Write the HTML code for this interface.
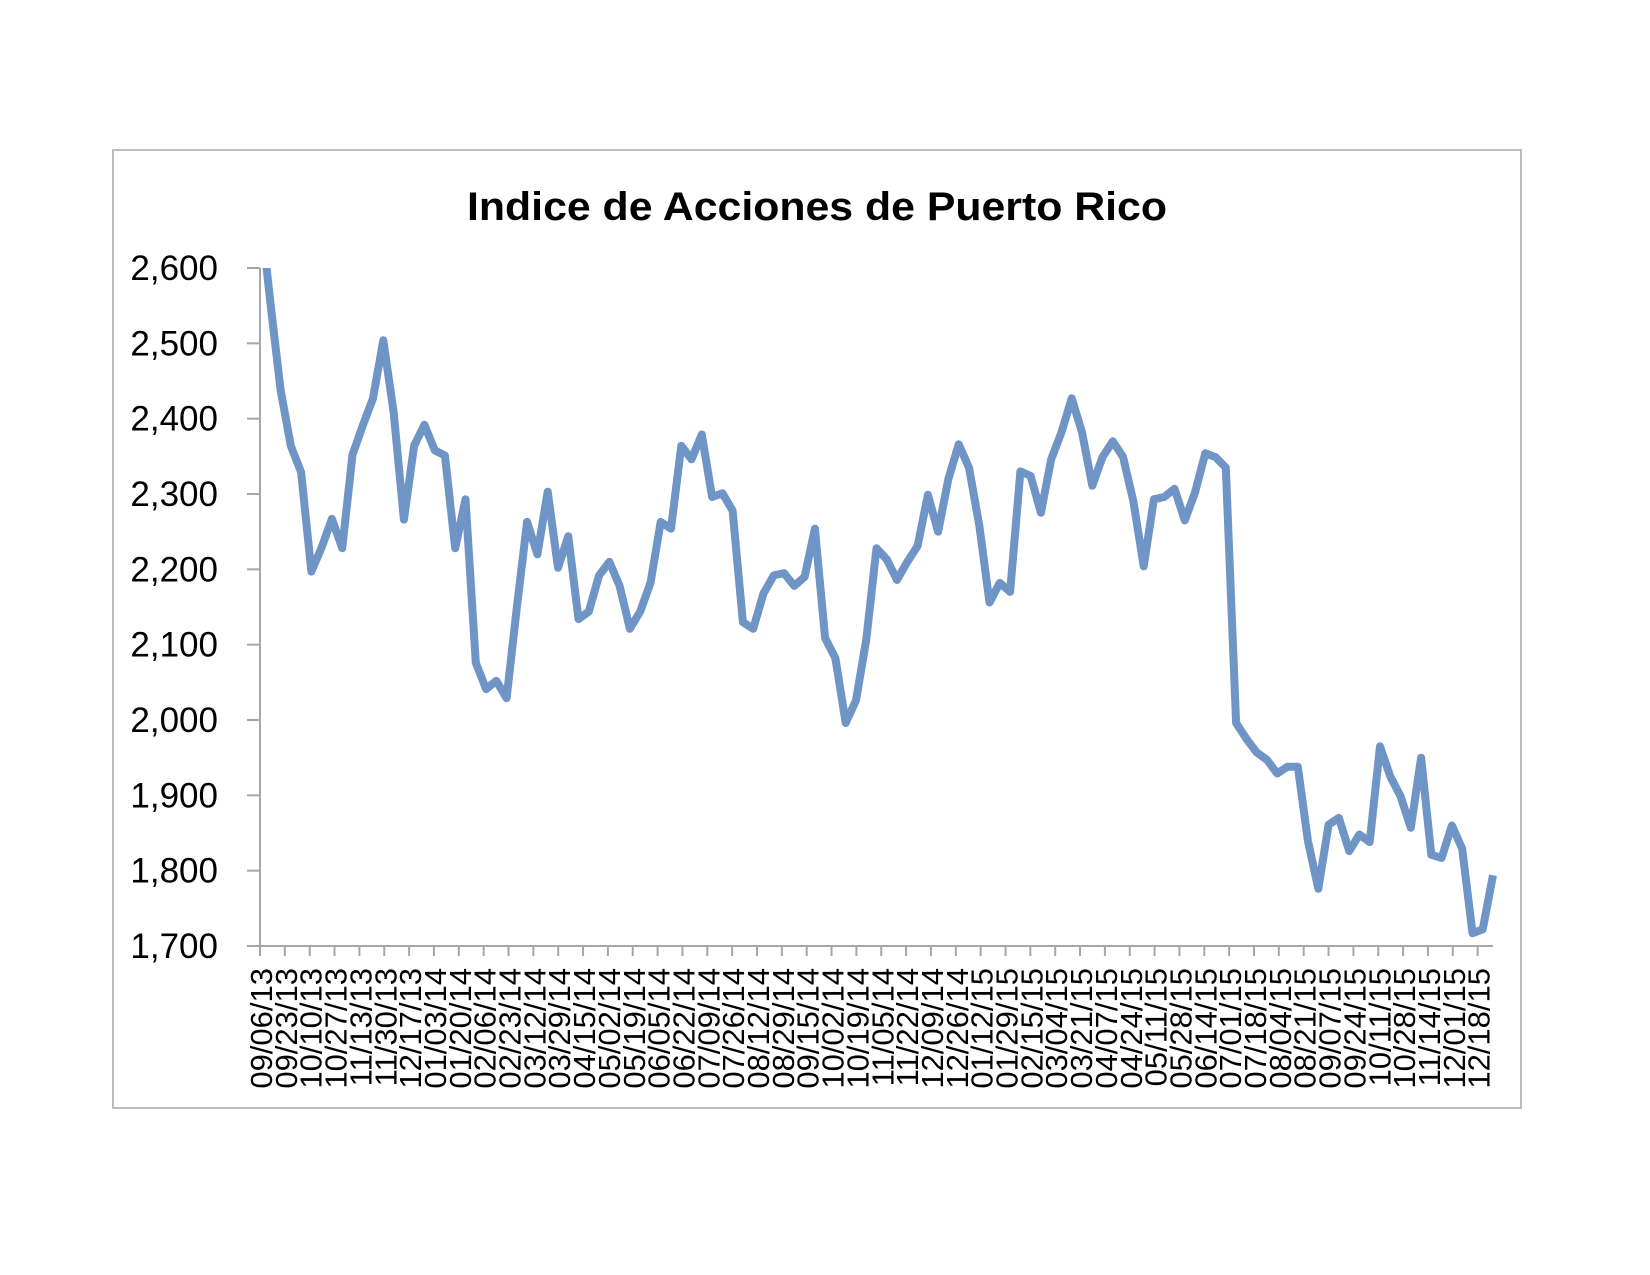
<!DOCTYPE html>
<html><head><meta charset="utf-8"><title>Indice de Acciones de Puerto Rico</title>
<style>html,body{margin:0;padding:0;background:#fff}svg{display:block}</style></head>
<body>
<svg id="chart" width="1650" height="1275" viewBox="0 0 1650 1275" xmlns="http://www.w3.org/2000/svg" font-family="'Liberation Sans', sans-serif">
<rect x="113" y="150" width="1408" height="958" fill="#fff" stroke="#bdbdbd" stroke-width="2"/>
<text x="817" y="220" text-anchor="middle" font-size="40" font-weight="bold" fill="#000" textLength="700" lengthAdjust="spacingAndGlyphs">Indice de Acciones de Puerto Rico</text>
<g id="axes"></g>
<g id="series"></g>
</svg>
<script>
const values = [2680,2555,2438,2364,2329,2197,2229,2267,2228,2352,2391,2427,2504,2409,2266,2364,2392,2358,2351,2228,2293,2076,2041,2052,2029,
2150,2263,2220,2303,2202,2244,2134,2144,2192,2210,2178,2121,2144,2182,2263,2254,2364,2346,2379,2296,2301,2278,2130,
2121,2168,2192,2195,2178,2190,2254,2109,2082,1996,2026,2106,2228,2213,2186,2210,2231,2299,2250,2320,2366,2335,2258,
2156,2182,2170,2330,2324,2275,2346,2382,2427,2382,2311,2349,2370,2349,2290,2204,2293,2296,2307,2265,2302,2354,2349,2335,
1996,1975,1957,1947,1929,1938,1938,1839,1776,1861,1870,1826,1848,1838,1965,1925,1899,1857,1950,1821,1817,1860,1829,1717,1722,1794];
const yTicks = [1700,1800,1900,2000,2100,2200,2300,2400,2500,2600];
const yTickLabels = ["1,700","1,800","1,900","2,000","2,100","2,200","2,300","2,400","2,500","2,600"];
const xTickLabels = ["09/06/13","09/23/13","10/10/13","10/27/13","11/13/13","11/30/13","12/17/13","01/03/14","01/20/14","02/06/14","02/23/14","03/12/14","03/29/14","04/15/14","05/02/14","05/19/14","06/05/14","06/22/14","07/09/14","07/26/14","08/12/14","08/29/14","09/15/14","10/02/14","10/19/14","11/05/14","11/22/14","12/09/14","12/26/14","01/12/15","01/29/15","02/15/15","03/04/15","03/21/15","04/07/15","04/24/15","05/11/15","05/28/15","06/14/15","07/01/15","07/18/15","08/04/15","08/21/15","09/07/15","09/24/15","10/11/15","10/28/15","11/14/15","12/01/15","12/18/15"];

const NS="http://www.w3.org/2000/svg";
const X0=260, X1=1493, Y0=946, Y1=268, VMIN=1700, VMAX=2600;
const TICK_STEP=24.85;
function xOf(i){return X0 + i*(X1-X0)/(values.length-1);}
function yOf(v){return Y0 - (v-VMIN)/(VMAX-VMIN)*(Y0-Y1);}
function mk(tag,parent){const e=document.createElementNS(NS,tag);parent.appendChild(e);return e;}

const axes=document.getElementById('axes');
const yAxis=mk('line',axes);


yAxis.setAttribute('x1',X0);yAxis.setAttribute('x2',X0);yAxis.setAttribute('y1',Y1);yAxis.setAttribute('y2',Y0);
yAxis.setAttribute('stroke','#a6a6a6');yAxis.setAttribute('stroke-width','2');
const xAxis=mk('line',axes);


xAxis.setAttribute('x1',X0);xAxis.setAttribute('x2',X1);xAxis.setAttribute('y1',Y0);xAxis.setAttribute('y2',Y0);
xAxis.setAttribute('stroke','#a6a6a6');xAxis.setAttribute('stroke-width','2');

yTicks.forEach((t,k)=>{
  const y=yOf(t);
  const tk=mk('line',axes);
  
  
  tk.setAttribute('x1',X0-13);tk.setAttribute('x2',X0);tk.setAttribute('y1',y);tk.setAttribute('y2',y);
  tk.setAttribute('stroke','#a6a6a6');tk.setAttribute('stroke-width','2');
  const lb=mk('text',axes);
  
  
  lb.setAttribute('x',218);lb.setAttribute('y',y+12);
  lb.setAttribute('text-anchor','end');lb.setAttribute('font-size','35');lb.setAttribute('fill','#000');
  lb.textContent=yTickLabels[k];
});

xTickLabels.forEach((s,k)=>{
  const x=X0+k*TICK_STEP;
  const tk=mk('line',axes);
  
  
  tk.setAttribute('x1',x);tk.setAttribute('x2',x);tk.setAttribute('y1',Y0);tk.setAttribute('y2',Y0+10);
  tk.setAttribute('stroke','#a6a6a6');tk.setAttribute('stroke-width','2');
  const lb=mk('text',axes);
  
  
  lb.setAttribute('transform','translate('+(x+12)+',968) rotate(-90)');
  lb.setAttribute('text-anchor','end');lb.setAttribute('font-size','31');lb.setAttribute('fill','#000');
  lb.textContent=s;
});

const series=document.getElementById('series');
const clip=mk('clipPath',series);clip.setAttribute('id','plotclip');
const cr=mk('rect',clip);cr.setAttribute('x',X0-10);cr.setAttribute('y',Y1);cr.setAttribute('width',X1-X0+20);cr.setAttribute('height',Y0-Y1+10);
const path=mk('polyline',series);


path.setAttribute('points',values.map((v,i)=>xOf(i).toFixed(1)+','+yOf(v).toFixed(1)).join(' '));
path.setAttribute('fill','none');path.setAttribute('stroke','#6f94c6');path.setAttribute('stroke-width','8');
path.setAttribute('stroke-linejoin','round');path.setAttribute('clip-path','url(#plotclip)');
</script>
</body></html>
